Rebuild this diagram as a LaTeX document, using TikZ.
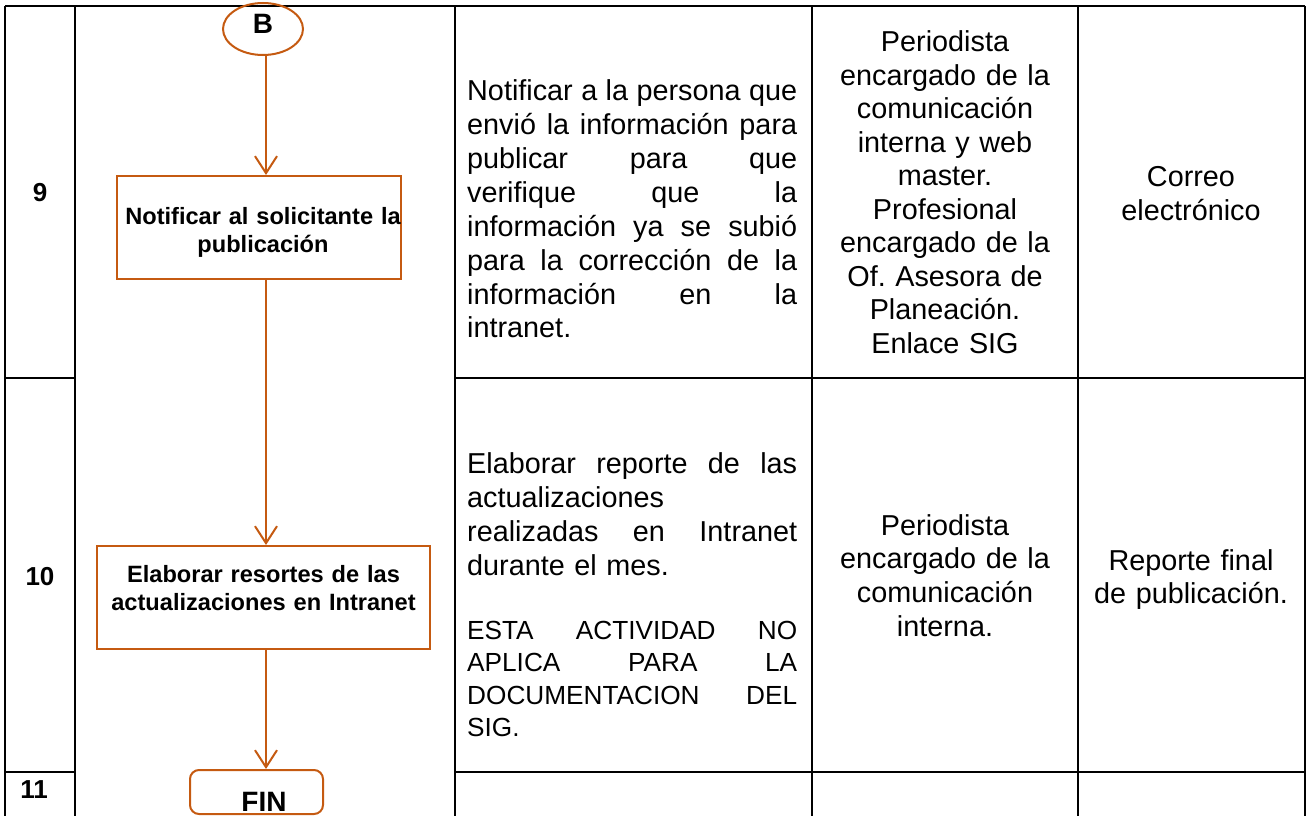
\documentclass[tikz,border=0pt]{standalone}
\usepackage{fontspec}
\setmainfont{Liberation Sans}
\usetikzlibrary{shapes.geometric,arrows.meta}
\definecolor{flow}{RGB}{197,90,17}
\frenchspacing
\newcommand\jl[1]{\leavevmode\hbox to 330pt{\spaceskip=\fontdimen2\font plus 1fil minus \fontdimen4\font\relax #1}}
\tikzset{
  grid/.style={line width=2.2pt, black},
  flowshape/.style={draw=flow, line width=2pt, inner sep=0pt},
  flowarrow/.style={draw=flow, line width=2pt, -{Straight Barb[length=17pt,width=22pt]}},
  body/.style={inner sep=0pt, font=\fontsize{28.8}{33.9}\selectfont},
  just/.style={body, text width=330pt, align=left, anchor=base west},
  ctr/.style={body, text width=260pt, align=center, anchor=base},
  flowtext/.style={inner sep=0pt, font=\bfseries\fontsize{23.6}{28}\selectfont, text width=320pt, align=center, anchor=base},
  rownum/.style={inner sep=0pt, font=\bfseries\fontsize{26}{30}\selectfont, anchor=base}
}
\begin{document}
\begin{tikzpicture}[x=1pt,y=-1pt]
\useasboundingbox (0,0) rectangle (1307,816);
% table grid
\draw[grid] (5,6) -- (1305,6);
\foreach \x in {5,75,455,812,1078,1305} \draw[grid] (\x,6) -- (\x,818);
\foreach \y in {378,772} {
  \draw[grid] (5,\y) -- (75,\y);
  \draw[grid] (455,\y) -- (1305,\y);
}
% row numbers
\node[rownum] (r9) at (40,201.7) {9};
\node[rownum] (r10) at (40,585) {10};
\node[rownum] (r11) at (34,798) {11};
% flow
\coordinate (ax) at (266,0);
\node[flowshape, ellipse, minimum width=80pt, minimum height=52pt] (B) at (263,29) {};
\node[inner sep=0pt, font=\bfseries\fontsize{28}{30}\selectfont, anchor=base] (Bt) at (263,33.3) {B};
\node[flowshape, rectangle, minimum width=284pt, minimum height=103pt] (n1) at (259,227.5) {};
\node[flowtext] (n1t) at (263,224) {Notificar al solicitante la\\publicación};
\node[flowshape, rectangle, minimum width=333pt, minimum height=103pt] (n2) at (263.5,597.5) {};
\node[flowtext] (n2t) at (263.5,582.7) {Elaborar resortes de las\\actualizaciones en Intranet};
\node[flowshape, rectangle, rounded corners=9pt, minimum width=133pt, minimum height=44pt] (fin) at (256.5,792) {};
\node[inner sep=0pt, font=\bfseries\fontsize{28}{30}\selectfont, anchor=base] (fint) at (264,811.7) {FIN};
\draw[flowarrow] (B.south -| ax) -- (n1.north -| ax);
\draw[flowarrow] (n1.south -| ax) -- (n2.north -| ax);
\draw[flowarrow] (n2.south -| ax) -- (fin.north -| ax);
% column 3
\node[just] (d9) at (467,100.7) {\jl{Notificar a la persona que}\\
\jl{envió la información para}\\
\jl{publicar para que}\\
\jl{verifique que la}\\
\jl{información ya se subió}\\
\jl{para la corrección de la}\\
\jl{información en la}\\
intranet.};
\node[just] (d10a) at (467,473.3) {\jl{Elaborar reporte de las}\\
actualizaciones\\
\jl{realizadas en Intranet}\\
durante el mes.};
\node[just, font=\fontsize{26.2}{32.6}\selectfont] (d10b) at (467,639) {\jl{ESTA ACTIVIDAD NO}\\
\jl{APLICA PARA LA}\\
\jl{DOCUMENTACION DEL}\\
SIG.};
% column 4
\node[ctr, font=\fontsize{28.8}{33.5}\selectfont] (p9) at (945,51.7) {Periodista\\encargado de la\\comunicación\\interna y web\\master.\\Profesional\\encargado de la\\Of. Asesora de\\Planeación.\\Enlace SIG};
\node[ctr] (p10) at (945,535) {Periodista\\encargado de la\\comunicación\\interna.};
% column 5
\node[ctr] (m9) at (1191,186.5) {Correo\\electrónico};
\node[ctr] (m10) at (1191,570) {Reporte final\\de publicación.};
\end{tikzpicture}
\end{document}
